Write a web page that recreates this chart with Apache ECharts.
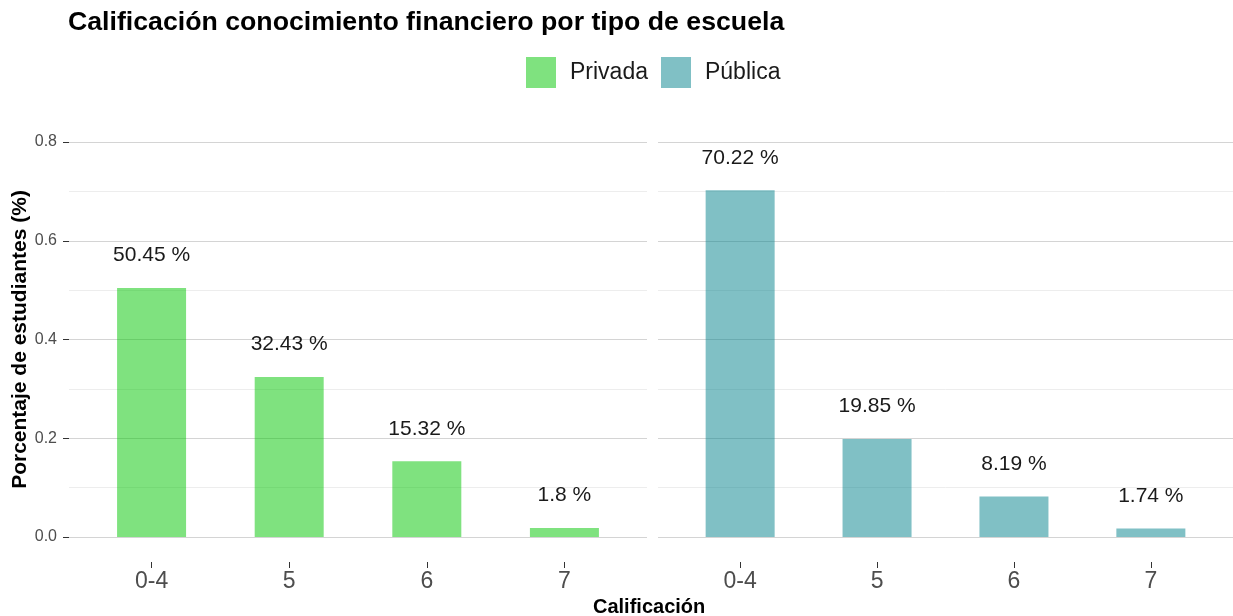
<!DOCTYPE html>
<html>
<head>
<meta charset="utf-8">
<script src="https://cdn.jsdelivr.net/npm/echarts@6/dist/echarts.min.js"></script>
<style>
  html, body { margin: 0; padding: 0; background: #fff; }
  #chart { width: 1233px; height: 616px; }
</style>
</head>
<body>
<div id="chart"></div>
<script>
// data
const categories = ['0-4', '5', '6', '7']
const schools = ['Privada', 'Pública']
const privada = [0.5045, 0.3243, 0.1532, 0.018]
const publica = [0.7022, 0.1985, 0.0819, 0.0174]
const yTicks = [0, 0.2, 0.4, 0.6, 0.8]

const colors = ['rgba(0, 197, 0, 0.5)', 'rgba(1, 130, 140, 0.5)']
const font = '"Liberation Sans", Arial, sans-serif'

const chart = echarts.init(document.getElementById('chart'))

const toPoints = (vals) => vals.map((v, i) => [i, v])

// ggplot-like discrete axis: 0.6 units of padding each side
const makeX = (gridIndex) => ({
  type: 'value',
  gridIndex,
  min: -0.6,
  max: 3.6,
  offset: 25,
  axisLine: { show: false, onZero: false },
  splitLine: { show: false },
  axisTick: {
    show: true, length: 6, customValues: [0, 1, 2, 3],
    lineStyle: { color: '#333', width: 1 }
  },
  axisLabel: {
    customValues: [0, 1, 2, 3],
    formatter: (v) => categories[Math.round(v)],
    color: '#4D4D4D', fontSize: 23, fontFamily: font, margin: 8
  }
})

const makeY = (gridIndex, showLabels) => ({
  type: 'value',
  gridIndex,
  min: yTicks[0],
  max: yTicks[yTicks.length - 1],
  interval: 0.2,
  axisLine: { show: false, onZero: false },
  axisTick: { show: showLabels, length: 6, lineStyle: { color: '#333' } },
  axisLabel: {
    show: showLabels, color: '#4D4D4D', fontSize: 16, fontFamily: font, margin: 12,
    formatter: (v) => v.toFixed(1)
  },
  splitLine: { show: true, lineStyle: { color: '#D4D4D4', width: 1.2 } },
  minorTick: { show: false, splitNumber: 2 },
  minorSplitLine: { show: true, lineStyle: { color: '#EDEDED', width: 1 } },
  name: showLabels ? 'Porcentaje de estudiantes (%)' : '',
  nameLocation: 'middle',
  nameRotate: 90,
  nameGap: 37,
  nameTextStyle: { fontSize: 21, fontWeight: 'bold', color: '#000', fontFamily: font }
})

const makeSeries = (name, vals, idx) => ({
  name,
  type: 'bar',
  xAxisIndex: idx,
  yAxisIndex: idx,
  barWidth: 69,
  itemStyle: { color: colors[idx] },
  label: {
    show: true,
    position: 'top',
    distance: 22,
    color: '#1A1A1A',
    fontSize: 21,
    fontFamily: font,
    formatter: (p) => (Math.round(p.value[1] * 10000) / 100) + ' %'
  },
  data: toPoints(vals)
})

const option = {
  backgroundColor: '#fff',
  animation: false,
  title: [
    {
      text: 'Calificación conocimiento financiero por tipo de escuela',
      left: 63, top: 4,
      textStyle: { fontSize: 26.7, fontWeight: 'bold', color: '#000', fontFamily: font }
    },
    {
      text: 'Calificación',
      left: 588, top: 592,
      textStyle: { fontSize: 20, fontWeight: 'bold', color: '#000', fontFamily: font }
    }
  ],
  legend: {
    data: schools,
    left: 521,
    top: 52,
    itemWidth: 30,
    itemHeight: 31,
    itemGap: 13,
    icon: 'rect',
    textStyle: { fontSize: 23, color: '#1A1A1A', fontFamily: font, padding: [3, 0, 0, 9] }
  },
  grid: [
    { left: 69, width: 578, top: 142, height: 395 },
    { left: 658, width: 575, top: 142, height: 395 }
  ],
  xAxis: [makeX(0), makeX(1)],
  yAxis: [makeY(0, true), makeY(1, false)],
  series: [
    makeSeries(schools[0], privada, 0),
    makeSeries(schools[1], publica, 1)
  ]
}

chart.setOption(option)
</script>
</body>
</html>
